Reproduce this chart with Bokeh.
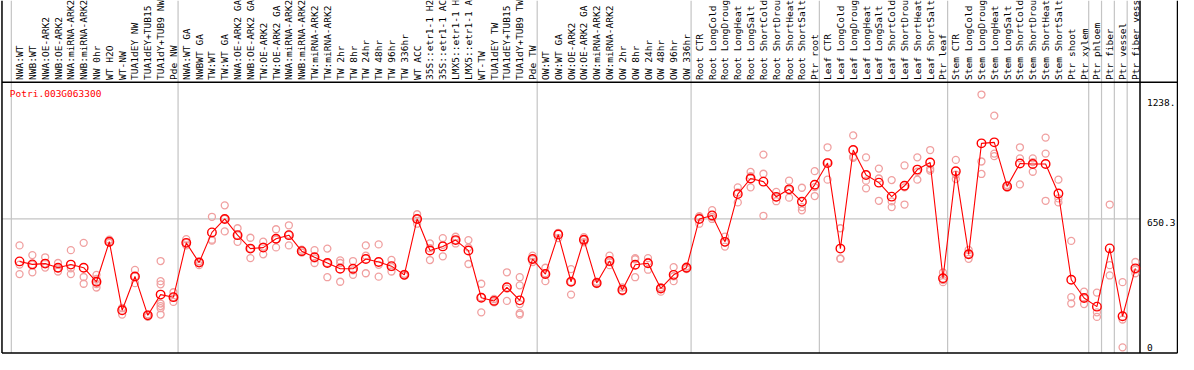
import math
from bokeh.plotting import figure
from bokeh.models import Range1d
from bokeh.core.properties import value
from bokeh.embed import file_html
from bokeh.resources import INLINE

gene_id = "Potri.003G063300"

categories = [
    "NWA:WT", "NWB:WT", "NWA:OE-ARK2", "NWB:OE-ARK2", "NWA:miRNA-ARK2", "NWB:miRNA-ARK2",
    "NW 0hr", "WT H2O", "WT-NW", "TUA1dEY NW", "TUA1dEY+TUB15 NW", "TUA1dY+TUB9 NW", "Pde NW",
    "NWA:WT GA", "NWBWT GA", "TW:WT", "TW:WT GA", "NWA:OE-ARK2 GA", "NWB:OE-ARK2 GA",
    "TW:OE-ARK2", "TW:OE-ARK2 GA", "NWA:miRNA-ARK2 GA", "NWB:miRNA-ARK2 GA", "TW:miRNA-ARK2",
    "TW:miRNA-ARK2 GA", "TW 2hr", "TW 8hr", "TW 24hr", "TW 48hr", "TW 96hr", "TW 336hr", "WT ACC",
    "35S::etr1-1 H2O", "35S::etr1-1 ACC", "LMX5::etr1-1 H2O", "LMX5::etr1-1 ACC", "WT-TW",
    "TUA1dEY TW", "TUA1dEY+TUB15 TW", "TUA1dY+TUB9 TW", "Pde TW",
    "OW:WT", "OW:WT GA", "OW:OE-ARK2", "OW:OE-ARK2 GA", "OW:miRNA-ARK2", "OW:miRNA-ARK2 GA",
    "OW 2hr", "OW 8hr", "OW 24hr", "OW 48hr", "OW 96hr", "OW 336hr",
    "Root CTR", "Root LongCold", "Root LongDrought", "Root LongHeat", "Root LongSalt",
    "Root ShortCold", "Root ShortDrought", "Root ShortHeat", "Root ShortSalt", "Ptr root",
    "Leaf CTR", "Leaf LongCold", "Leaf LongDrought", "Leaf LongHeat", "Leaf LongSalt",
    "Leaf ShortCold", "Leaf ShortDrought", "Leaf ShortHeat", "Leaf ShortSalt", "Ptr leaf",
    "Stem CTR", "Stem LongCold", "Stem LongDrought", "Stem LongHeat", "Stem LongSalt",
    "Stem ShortCold", "Stem ShortDrought", "Stem ShortHeat", "Stem ShortSalt", "Ptr shoot",
    "Ptr xylem", "Ptr phloem", "Ptr fiber", "Ptr vessel", "Ptr fiber vessel",
]

means = [
    435, 420, 424, 403, 419, 403, 332, 535, 188, 359, 162, 267, 254,
    529, 429, 582, 650, 568, 500, 505, 550, 568, 487, 456, 427, 398, 398, 447, 432, 411, 367, 650,
    490, 511, 543, 490, 251, 235, 304, 238, 447,
    371, 571, 332, 545, 326, 437, 290, 418, 426, 298, 367, 403,
    650, 668, 534, 776, 855, 839, 762, 800, 737, 823,
    933, 500, 999, 873, 834, 763, 818, 900, 936, 350,
    892, 471, 1033, 1038, 815, 931, 928, 928, 779, 342,
    250, 206, 501, 157, 400,
]

replicates = [
    [516, 419, 371], [467, 419, 380], [456, 424, 404], [427, 400, 384], [492, 400, 371],
    [529, 356, 322], [367, 346, 320, 303], [545, 535, 529], [200, 198, 166], [392, 359, 325],
    [167, 162, 154], [437, 335, 319, 222, 209, 198, 166], [279, 254, 230],
    [548, 529, 516], [437, 429, 416], [661, 545, 540], [719, 650, 587], [603, 568, 534],
    [555, 500, 452], [535, 510, 471], [598, 546, 506], [618, 570, 516], [495, 487, 480],
    [492, 450, 427], [500, 427, 355], [440, 427, 332], [437, 390, 367], [516, 464, 375],
    [521, 418, 358], [443, 406, 384], [372, 367, 362], [674, 650, 626],
    [526, 502, 442], [553, 519, 461], [560, 543, 526], [543, 505, 422], [322, 254, 177],
    [245, 235, 228], [380, 297, 235], [355, 314, 219, 173, 166], [464, 445, 432],
    [403, 375, 335], [578, 580, 553], [396, 332, 267], [558, 545, 532], [332, 326, 320],
    [464, 431, 416], [303, 285, 283], [452, 446, 355], [452, 433, 393], [303, 298, 282],
    [406, 360, 335], [410, 403, 396],
    [660, 664, 626], [695, 660, 650], [561, 531, 510], [810, 784, 734], [888, 867, 810],
    [976, 879, 666], [787, 760, 740], [844, 798, 758], [808, 710, 694], [892, 811, 766],
    [1013, 937, 849], [603, 450, 448], [1073, 965, 960], [962, 844, 805], [905, 855, 742],
    [847, 739, 710], [921, 810, 723], [962, 889, 849], [999, 904, 895], [379, 341, 330],
    [949, 875, 852], [493, 471, 448], [1280, 941, 878], [1173, 981, 968], [822, 815, 808],
    [1013, 957, 825], [957, 938, 889], [1062, 981, 742], [849, 754, 734], [539, 254, 222],
    [282, 250, 219], [277, 177, 154], [723, 416, 364], [330, 141, 0], [432, 393, 375],
]

# last category index of each group (vertical separators follow them)
group_ends = [12, 40, 52, 62, 72, 83, 84, 85, 86]
tick_values = [1238.0, 650.3, 0.0]
tick_labels = ["1238.", "650.3", "0"]

# ---------------- layout (reference frame: 1194 x 370 px) ----------------
W, H = 1178, 354
REF_W, REF_H = 1194.0, 370.0
X0_PX, DX_PX = 19.3, 13.0        # category 0 centre, category pitch
Y0_PX, DY_PX = 362.5, 0.2064     # value 0 position, px per unit


def xr(px):
    return (px - X0_PX) / DX_PX


def yr(px):
    return (Y0_PX - px) / DY_PX


n = len(categories)
xs = list(range(n))

p = figure(width=W, height=H, x_range=Range1d(xr(0), xr(REF_W)),
           y_range=Range1d(yr(REF_H), yr(0)), output_backend="svg",
           toolbar_location=None, min_border=0, title=None)
p.xaxis.visible = False
p.yaxis.visible = False
p.xgrid.visible = False
p.ygrid.visible = False
p.outline_line_color = None
p.background_fill_color = "white"
p.border_fill_color = "white"

FONT = value("DejaVu Sans Mono")
FS = "9.5px"
GRID = "#c4c4c4"

y_header = yr(85.5)
y_bottom = yr(368.5)
x_left = xr(1.5)
x_plot_right = (n - 1) + 0.36
x_outer_right = xr(1193)

# vertical separators (gray) across header and plot
sep_x = [-0.64] + [e + 0.36 for e in group_ends]
p.segment(x0=sep_x, y0=[yr(0)] * len(sep_x), x1=sep_x, y1=[y_bottom] * len(sep_x),
          line_color=GRID, line_width=1.2)

# horizontal gridline at middle tick
p.segment(x0=[x_left], y0=[tick_values[1]], x1=[x_plot_right], y1=[tick_values[1]],
          line_color=GRID, line_width=1.2)

# black frame lines
p.segment(x0=[x_left, x_plot_right, x_outer_right, x_left, x_left],
          y0=[yr(0), yr(0), yr(0), y_header, y_bottom],
          x1=[x_left, x_plot_right, x_outer_right, x_outer_right, x_outer_right],
          y1=[y_bottom, y_bottom, y_bottom, y_header, y_bottom],
          line_color="black", line_width=1.5)

# rotated category labels in header
p.text(x=xs, y=[yr(83)] * n, text=categories, angle=math.pi / 2,
       text_align="left", text_baseline="middle", text_font=FONT,
       text_font_size=FS, text_color="black")

# gene id
p.text(x=[xr(9.5)], y=[yr(97)], text=[gene_id], text_align="left",
       text_baseline="middle", text_font=FONT, text_font_size=FS,
       text_color="#ff0000")

# right-side tick labels
p.text(x=[xr(1162)] * 3, y=tick_values, text=tick_labels, text_align="left",
       text_baseline="middle", y_offset=[0, 4, 0], text_font=FONT,
       text_font_size=FS, text_color="black")

# replicates
rx, ry = [], []
for i, reps in enumerate(replicates):
    for v in reps:
        rx.append(i)
        ry.append(v)
p.scatter(x=rx, y=ry, marker="circle", size=7, fill_color=None,
          line_color="#f0a0a0", line_width=1.3)

# means
p.line(x=xs, y=means, line_color="#ff0000", line_width=1.1)
p.scatter(x=xs, y=means, marker="circle", size=8.5, fill_color=None,
          line_color="#ff0000", line_width=1.4)

open("out.html", "w").write(file_html(p, INLINE))
